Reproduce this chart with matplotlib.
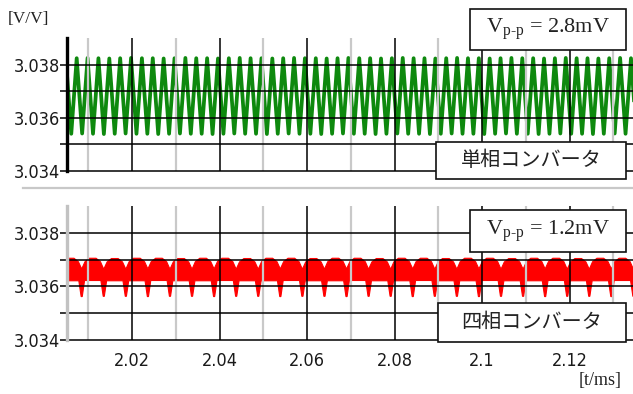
import numpy as np
import matplotlib
matplotlib.use("Agg")
import matplotlib.pyplot as plt
from matplotlib import font_manager as fm
from matplotlib.patches import Rectangle
from matplotlib.lines import Line2D
from matplotlib.ticker import FixedLocator, FixedFormatter

# ---------------- data ----------------
x_lim = (2.00515, 2.13446)
y_lim = (3.034, 3.039)
x_major = [2.02, 2.04, 2.06, 2.08, 2.10, 2.12]
x_major_labels = ["2.02", "2.04", "2.06", "2.08", "2.1", "2.12"]
x_minor = [2.01, 2.03, 2.05, 2.07, 2.09, 2.11, 2.13]
y_levels = [3.034, 3.035, 3.036, 3.037, 3.038]
y_level_labels = ["3.034", "", "3.036", "", "3.038"]

# single-phase converter: peak / trough values of each ripple cycle
green_t0 = 2.007366          # time of first visible peak [ms]
green_period = 0.002483      # ripple period [ms]
green_peaks = [
    3.03824, 3.03824, 3.03825, 3.03824, 3.03823, 3.03824, 3.03825, 3.03824, 3.03824, 3.03823,
    3.03824, 3.03825, 3.03824, 3.03824, 3.03823, 3.03824, 3.03825, 3.03824, 3.03824, 3.03823,
    3.03824, 3.03825, 3.03824, 3.03824, 3.03823, 3.03824, 3.03825, 3.03824, 3.03824, 3.03823,
    3.03824, 3.03825, 3.03824, 3.03824, 3.03823, 3.03824, 3.03825, 3.03824, 3.03824, 3.03823,
    3.03824, 3.03825, 3.03824, 3.03824, 3.03823, 3.03824, 3.03825, 3.03824, 3.03824, 3.03823,
    3.03824, 3.03825, 3.03824,
]
green_troughs = [
    3.03540, 3.03541, 3.03540, 3.03539, 3.03540, 3.03541, 3.03540, 3.03540, 3.03539, 3.03540,
    3.03541, 3.03540, 3.03540, 3.03539, 3.03540, 3.03541, 3.03540, 3.03540, 3.03539, 3.03540,
    3.03541, 3.03540, 3.03540, 3.03539, 3.03540, 3.03541, 3.03540, 3.03540, 3.03539, 3.03540,
    3.03541, 3.03540, 3.03540, 3.03539, 3.03540, 3.03541, 3.03540, 3.03540, 3.03539, 3.03540,
    3.03541, 3.03540, 3.03540, 3.03539, 3.03540, 3.03541, 3.03540, 3.03540, 3.03539, 3.03540,
    3.03541, 3.03540, 3.03540,
]

# four-phase converter: per ripple period (starting at each dip) envelope values
red_t0 = 2.008508            # time of first visible dip [ms]
red_period = 0.005042        # ripple period [ms]
red_top = [
    3.03705, 3.03705, 3.03704, 3.03705, 3.03705, 3.03704, 3.03705, 3.03705, 3.03704,
    3.03705, 3.03705, 3.03704, 3.03705, 3.03705, 3.03704, 3.03705, 3.03705, 3.03704,
    3.03705, 3.03705, 3.03704, 3.03705, 3.03705, 3.03704, 3.03705, 3.03705, 3.03704,
]
red_shoulder = [
    3.03692, 3.03692, 3.03691, 3.03692, 3.03692, 3.03691, 3.03692, 3.03692, 3.03691,
    3.03692, 3.03692, 3.03691, 3.03692, 3.03692, 3.03691, 3.03692, 3.03692, 3.03691,
    3.03692, 3.03692, 3.03691, 3.03692, 3.03692, 3.03691, 3.03692, 3.03692, 3.03691,
]
red_valley = [
    3.03664, 3.03665, 3.03664, 3.03664, 3.03665, 3.03664, 3.03664, 3.03665, 3.03664,
    3.03664, 3.03665, 3.03664, 3.03664, 3.03665, 3.03664, 3.03664, 3.03665, 3.03664,
    3.03664, 3.03665, 3.03664, 3.03664, 3.03665, 3.03664, 3.03664, 3.03665, 3.03664,
]
red_floor = [
    3.03621, 3.03622, 3.03621, 3.03621, 3.03622, 3.03621, 3.03621, 3.03622, 3.03621,
    3.03621, 3.03622, 3.03621, 3.03621, 3.03622, 3.03621, 3.03621, 3.03622, 3.03621,
    3.03621, 3.03622, 3.03621, 3.03621, 3.03622, 3.03621, 3.03621, 3.03622, 3.03621,
]
red_dip = [
    3.03563, 3.03562, 3.03563, 3.03563, 3.03562, 3.03563, 3.03563, 3.03562, 3.03563,
    3.03563, 3.03562, 3.03563, 3.03563, 3.03562, 3.03563, 3.03563, 3.03562, 3.03563,
    3.03563, 3.03562, 3.03563, 3.03563, 3.03562, 3.03563, 3.03563, 3.03562, 3.03563,
]

vpp_top = "2.8mV"
vpp_bottom = "1.2mV"
label_top = "単相コンバータ"
label_bottom = "四相コンバータ"
y_unit = "[V/V]"
x_unit = "[t/ms]"

# ---------------- fonts ----------------
plt.rcParams["mathtext.fontset"] = "custom"
plt.rcParams["mathtext.rm"] = "Liberation Serif"
plt.rcParams["mathtext.it"] = "Liberation Serif:italic"

_fonts = fm.fontManager.ttflist
_names = {f.name for f in _fonts}
tick_family, tick_stretch, tick_size = ["Liberation Sans"], "normal", 12.5
if "Liberation Sans Narrow" in _names:
    tick_family, tick_size = ["Liberation Sans Narrow"], 15
elif any(f.name == "DejaVu Sans" and "ondensed" in f.fname for f in _fonts):
    tick_family, tick_stretch, tick_size = ["DejaVu Sans"], "condensed", 13
elif "Roboto Condensed" in _names:
    tick_family, tick_size = ["Roboto Condensed"], 14.5
serif = ["Liberation Serif", "DejaVu Serif"]
cjk = ["Noto Sans CJK JP", "DejaVu Sans"]

# ---------------- figure ----------------
W, H = 633, 394
fig = plt.figure(figsize=(W / 100, H / 100), dpi=100)


def fx(px):
    return px / W


def fy(py):
    return 1 - py / H


GREEN = "#0e890e"
RED = "#ff0000"
GRID_GRAY = "#c9c9c9"


def style_labels(labels):
    for lab in labels:
        lab.set_fontfamily(tick_family)
        lab.set_fontstretch(tick_stretch)
        lab.set_fontsize(tick_size)


def make_axes(top_px, bottom_px, spine_color, show_xlabels):
    ax = fig.add_axes([fx(67), fy(bottom_px), 1 - fx(67), fy(top_px) - fy(bottom_px)])
    ax.set_xlim(*x_lim)
    ax.set_ylim(*y_lim)
    for s in ("top", "right", "bottom"):
        ax.spines[s].set_visible(False)
    ax.spines["left"].set_color(spine_color)
    ax.spines["left"].set_linewidth(2.4)
    ax.spines["left"].set_zorder(4)
    ax.patch.set_alpha(0)
    ax.yaxis.set_major_locator(FixedLocator(y_levels))
    ax.yaxis.set_major_formatter(FixedFormatter(y_level_labels))
    ax.tick_params(axis="y", length=5, width=1.1, color="black", pad=0,
                   labelcolor="#1a1a1a")
    style_labels(ax.get_yticklabels())
    ax.xaxis.set_major_locator(FixedLocator(x_major))
    if show_xlabels:
        ax.xaxis.set_major_formatter(FixedFormatter(x_major_labels))
        ax.tick_params(axis="x", length=0, pad=9, labelcolor="#1a1a1a")
        style_labels(ax.get_xticklabels())
    else:
        ax.tick_params(axis="x", length=0, labelbottom=False)
    for xv in x_minor:
        ax.axvline(xv, color=GRID_GRAY, lw=1.6, zorder=3)
    for xv in x_major:
        ax.axvline(xv, color="black", lw=1.1, zorder=3)
    for yv in y_levels:
        ax.axhline(yv, color="black", lw=1.1, zorder=3, clip_on=False)
    return ax


ax1 = make_axes(38, 171, "black", False)
ax2 = make_axes(206, 340, "#c2c2c2", True)

# green trace (through peaks and troughs)
k_g = np.arange(-1, len(green_peaks) - 1)
t_pk = green_t0 + green_period * k_g
t_tr = t_pk + green_period / 2
t_g = np.empty(2 * len(k_g))
v_g = np.empty(2 * len(k_g))
t_g[0::2], t_g[1::2] = t_pk, t_tr
v_g[0::2], v_g[1::2] = green_peaks, green_troughs
ax1.plot(t_g, v_g, color=GREEN, lw=2.7, zorder=2, solid_joinstyle="round")

# red trace (ripple band drawn as polygon through its envelope)
k_r = np.arange(-1, len(red_top) - 1)
t_dips = red_t0 + red_period * k_r
upper, lower = [], []
P = red_period
for i, t in enumerate(t_dips):
    upper += [(t, red_valley[i]), (t + 0.15 * P, red_shoulder[i]),
              (t + 0.35 * P, red_top[i]), (t + 0.65 * P, red_top[i]),
              (t + 0.85 * P, red_shoulder[i])]
    lower += [(t - 0.025 * P, red_dip[i]), (t + 0.025 * P, red_dip[i]),
              (t + 0.13 * P, red_floor[i]), (t + 0.87 * P, red_floor[i])]
upper.append((t_dips[-1] + P, red_valley[-1]))
lower.append((t_dips[-1] + P - 0.025 * P, red_dip[-1]))
poly = np.array(upper + lower[::-1])
ax2.fill(poly[:, 0], poly[:, 1], color=RED, lw=0.8, ec=RED, zorder=2)

# separator line between panels
fig.add_artist(Line2D([fx(23), 1.0], [fy(188), fy(188)], color="#c8c8c8", lw=1.6))

# unit labels
fig.text(fx(28), fy(19), y_unit, family=serif, size=12.5, ha="center", va="center",
         color="#222222")
fig.text(fx(600), fy(380), x_unit, family=serif, size=13, ha="center", va="center",
         color="#222222")


def box(x0, y0, x1, y1, text, family, size):
    fig.add_artist(Rectangle((fx(x0), fy(y1)), fx(x1) - fx(x0), fy(y0) - fy(y1),
                             transform=fig.transFigure, facecolor="white",
                             edgecolor="#111111", lw=1.2, zorder=10))
    fig.text(fx((x0 + x1) / 2), fy((y0 + y1) / 2), text, family=family, size=size,
             ha="center", va="center", color="#222222", zorder=11)


box(470, 9, 626, 50, "V$_{\\mathrm{p‐p}}$ = " + vpp_top, serif, 16)
box(470, 210, 626, 252, "V$_{\\mathrm{p‐p}}$ = " + vpp_bottom, serif, 16)
box(436, 142, 626, 179, label_top, cjk, 14.5)
box(438, 303, 626, 342, label_bottom, cjk, 14.5)

fig.savefig("out.png", dpi=100)
